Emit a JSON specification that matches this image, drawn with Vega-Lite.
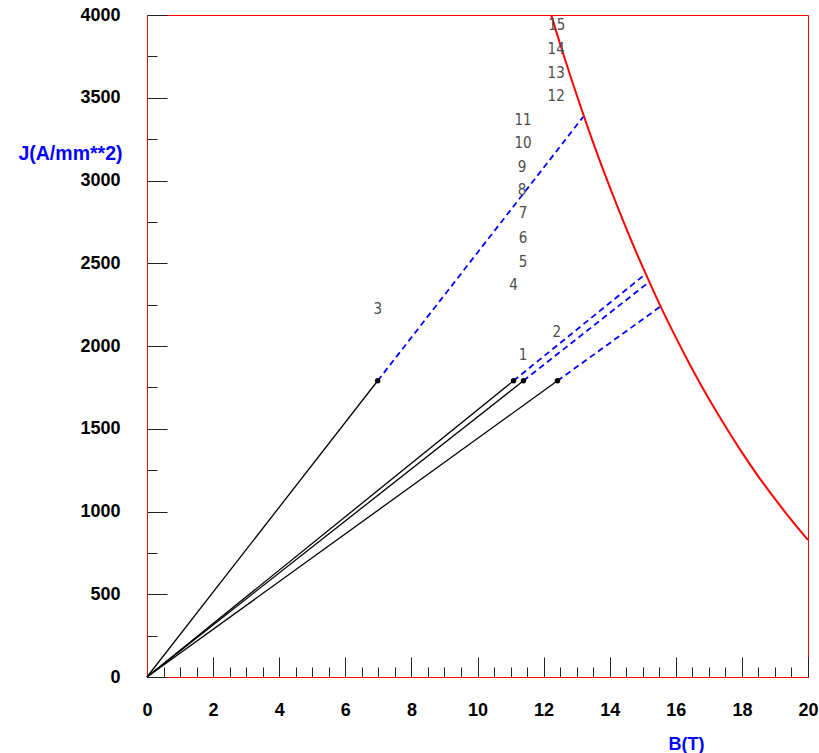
{
  "$schema": "https://vega.github.io/schema/vega-lite/v6.json",
  "autosize": {"type": "none"},
  "padding": {"left": 147, "top": 15, "right": 11, "bottom": 76},
  "width": 661,
  "height": 662,
  "background": "white",
  "view": {"stroke": "red", "strokeWidth": 1},
  "datasets": {
    "curve": [
      {"B": 12.23, "J": 4000}, {"B": 12.5, "J": 3825}, {"B": 13.0, "J": 3518},
      {"B": 13.5, "J": 3229}, {"B": 14.0, "J": 2961}, {"B": 14.5, "J": 2711},
      {"B": 15.0, "J": 2476}, {"B": 15.5, "J": 2256}, {"B": 16.0, "J": 2052},
      {"B": 16.5, "J": 1860}, {"B": 17.0, "J": 1681}, {"B": 17.5, "J": 1515},
      {"B": 18.0, "J": 1357}, {"B": 18.5, "J": 1211}, {"B": 19.0, "J": 1076},
      {"B": 19.5, "J": 948}, {"B": 20.0, "J": 828}
    ],
    "solid": [
      {"s": "a", "B": 0, "J": 0}, {"s": "a", "B": 6.98, "J": 1790},
      {"s": "b", "B": 0, "J": 0}, {"s": "b", "B": 11.09, "J": 1790},
      {"s": "c", "B": 0, "J": 0}, {"s": "c", "B": 11.39, "J": 1790},
      {"s": "d", "B": 0, "J": 0}, {"s": "d", "B": 12.42, "J": 1790}
    ],
    "dashed": [
      {"s": "a", "B": 6.98, "J": 1790}, {"s": "a", "B": 13.2, "J": 3385},
      {"s": "b", "B": 11.09, "J": 1790}, {"s": "b", "B": 15.09, "J": 2436},
      {"s": "c", "B": 11.39, "J": 1790}, {"s": "c", "B": 15.2, "J": 2388},
      {"s": "d", "B": 12.42, "J": 1790}, {"s": "d", "B": 15.54, "J": 2239}
    ],
    "dots": [
      {"B": 6.98, "J": 1790}, {"B": 11.09, "J": 1790}, {"B": 11.39, "J": 1790}, {"B": 12.42, "J": 1790}
    ],
    "labels": [
      {"B": 11.38, "J": 1946, "t": "1"}, {"B": 12.40, "J": 2085, "t": "2"},
      {"B": 6.98, "J": 2224, "t": "3"}, {"B": 11.09, "J": 2369, "t": "4"},
      {"B": 11.38, "J": 2509, "t": "5"}, {"B": 11.38, "J": 2653, "t": "6"},
      {"B": 11.38, "J": 2804, "t": "7"}, {"B": 11.35, "J": 2943, "t": "8"},
      {"B": 11.35, "J": 3083, "t": "9"}, {"B": 11.38, "J": 3227, "t": "10"},
      {"B": 11.38, "J": 3366, "t": "11"}, {"B": 12.38, "J": 3511, "t": "12"},
      {"B": 12.38, "J": 3651, "t": "13"}, {"B": 12.38, "J": 3795, "t": "14"},
      {"B": 12.40, "J": 3940, "t": "15"}
    ]
  },
  "layer": [
    {
      "data": {"name": "curve"},
      "mark": {"type": "line", "color": "#ff0000", "strokeWidth": 2, "interpolate": "monotone", "clip": true},
      "encoding": {
        "x": {
          "field": "B", "type": "quantitative",
          "scale": {"domain": [0, 20], "nice": false, "zero": false},
          "axis": {
            "values": [0,0.5,1,1.5,2,2.5,3,3.5,4,4.5,5,5.5,6,6.5,7,7.5,8,8.5,9,9.5,10,10.5,11,11.5,12,12.5,13,13.5,14,14.5,15,15.5,16,16.5,17,17.5,18,18.5,19,19.5,20],
            "tickCount": 100,
            "tickSize": {"condition": {"test": "datum.value % 2 === 0", "value": -20}, "value": -10},
            "tickColor": "#222",
            "tickWidth": 1,
            "domainColor": "#ff0000",
            "grid": false,
            "labelExpr": "datum.value % 2 === 0 ? format(datum.value, 'd') : ''",
            "labelFont": "Liberation Sans",
            "labelFontWeight": "bold",
            "labelFontSize": 18,
            "labelColor": "#000000",
            "labelPadding": 53,
            "labelBaseline": "middle",
            "labelFlush": false,
            "labelOverlap": false,
            "title": "B(T)",
            "titleFont": "Liberation Sans",
            "titleFontWeight": "bold",
            "titleFontSize": 18,
            "titleColor": "#0000ff",
            "titleAlign": "center",
            "titleBaseline": "alphabetic",
            "titleX": 539,
            "titleY": 72
          }
        },
        "y": {
          "field": "J", "type": "quantitative",
          "scale": {"domain": [0, 4000], "nice": false},
          "axis": {
            "values": [0,250,500,750,1000,1250,1500,1750,2000,2250,2500,2750,3000,3250,3500,3750,4000],
            "tickCount": 100,
            "tickSize": {"condition": {"test": "datum.value % 500 === 0", "value": -20}, "value": -10},
            "tickColor": "#222",
            "tickWidth": 1,
            "domainColor": "#ff0000",
            "grid": false,
            "labelExpr": "datum.value % 500 === 0 ? format(datum.value, 'd') : ''",
            "labelFont": "Liberation Sans",
            "labelFontWeight": "bold",
            "labelFontSize": 18,
            "labelColor": "#000000",
            "labelPadding": 47,
            "labelBaseline": "middle",
            "labelFlush": false,
            "labelOverlap": false,
            "title": "J(A/mm**2)",
            "titleFont": "Liberation Sans",
            "titleFontWeight": "bold",
            "titleFontSize": 19.5,
            "titleColor": "#0000ff",
            "titleAngle": 0,
            "titleAlign": "right",
            "titleBaseline": "alphabetic",
            "titleX": -25,
            "titleY": 144
          }
        }
      }
    },
    {
      "data": {"name": "solid"},
      "mark": {"type": "line", "color": "#000000", "strokeWidth": 1.3},
      "encoding": {
        "x": {"field": "B", "type": "quantitative"},
        "y": {"field": "J", "type": "quantitative"},
        "detail": {"field": "s"}
      }
    },
    {
      "data": {"name": "dashed"},
      "mark": {"type": "line", "color": "#0000ff", "strokeWidth": 1.8, "strokeDash": [6, 4]},
      "encoding": {
        "x": {"field": "B", "type": "quantitative"},
        "y": {"field": "J", "type": "quantitative"},
        "detail": {"field": "s"}
      }
    },
    {
      "data": {"name": "dots"},
      "mark": {"type": "circle", "color": "#000000", "size": 30, "opacity": 1},
      "encoding": {
        "x": {"field": "B", "type": "quantitative"},
        "y": {"field": "J", "type": "quantitative"}
      }
    },
    {
      "data": {"name": "labels"},
      "mark": {"type": "text", "font": "Liberation Sans Narrow, DejaVu Sans Condensed, Liberation Sans, sans-serif", "fontSize": 15, "color": "#4d4d4d", "align": "center", "baseline": "middle"},
      "encoding": {
        "x": {"field": "B", "type": "quantitative"},
        "y": {"field": "J", "type": "quantitative"},
        "text": {"field": "t"}
      }
    }
  ]
}
